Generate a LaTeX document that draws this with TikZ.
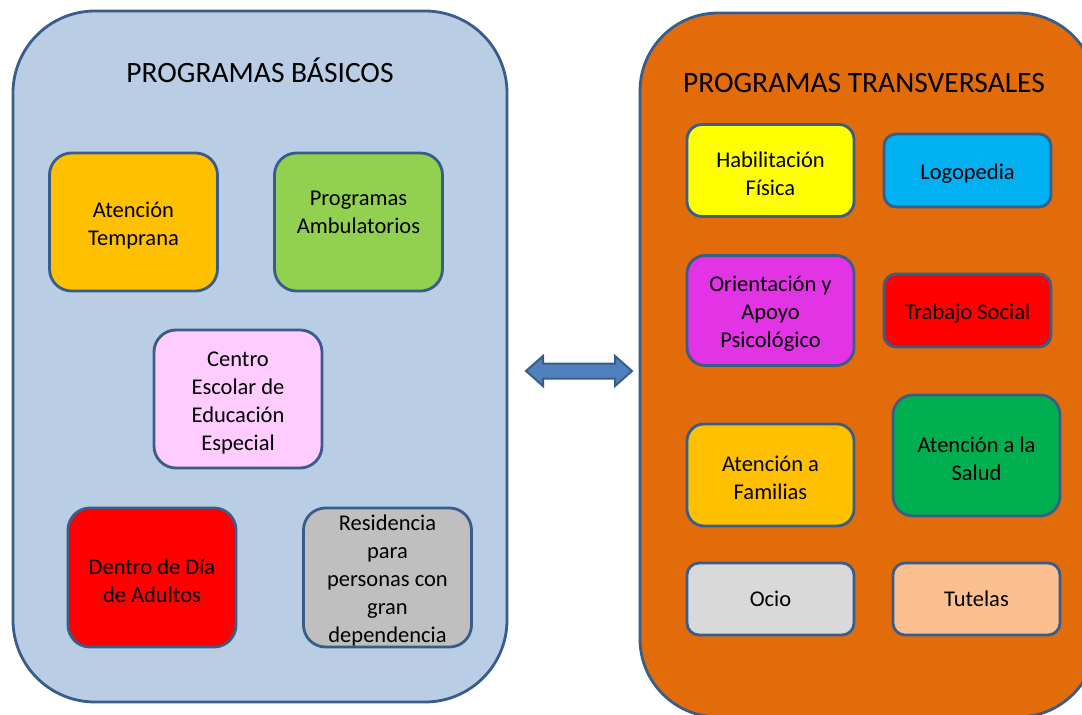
\documentclass[tikz,border=0pt]{standalone}
\usepackage{fontspec}
\setmainfont{Carlito}
\newcommand{\tstrut}{\rule{0pt}{22pt}}
\definecolor{bordercol}{HTML}{385D8A}
\definecolor{leftfill}{HTML}{B9CDE5}
\definecolor{rightfill}{HTML}{E36C0A}
\definecolor{arrowfill}{HTML}{4F81BD}
\definecolor{cAT}{HTML}{FFC000}
\definecolor{cPA}{HTML}{92D050}
\definecolor{cCE}{HTML}{FFCCFF}
\definecolor{cRed}{HTML}{FF0000}
\definecolor{cRes}{HTML}{BFBFBF}
\definecolor{cHab}{HTML}{FFFF00}
\definecolor{cLog}{HTML}{00B0F0}
\definecolor{cOri}{HTML}{E233E5}
\definecolor{cSal}{HTML}{00B050}
\definecolor{cOcio}{HTML}{D9D9D9}
\definecolor{cTut}{HTML}{FAC090}
\tikzset{
  bigbox/.style={draw=bordercol, line width=2.8pt, inner sep=0pt},
  prog/.style={draw=bordercol, line width=2.8pt, inner sep=0pt, align=center,
    font=\fontsize{22.5}{28}\selectfont, text=black},
  titletext/.style={anchor=base, font=\fontsize{29.5}{34}\selectfont, text=black, inner sep=0pt},
}
\begin{document}
\begin{tikzpicture}[x=1pt,y=-1pt]
\useasboundingbox (0,0) rectangle (1082,715);
\clip (0,0) rectangle (1082,715);
% big containers
\node[bigbox, fill=leftfill, minimum width=494, minimum height=691, rounded corners=82] (basicos) at (260,356.5) {};
\node[bigbox, fill=rightfill, minimum width=456, minimum height=704, rounded corners=78] (transv) at (868,365) {};
\node[titletext] (tbas) at (260,82) {PROGRAMAS BÁSICOS};
\node[titletext] (ttra) at (864,92) {PROGRAMAS TRANSVERSALES};
% basic programs
\node[prog, fill=cAT, minimum width=168, minimum height=138, rounded corners=22] (at) at (133.5,222) {\tstrut Atención\\Temprana};
\node[prog, fill=cPA, minimum width=168, minimum height=138, rounded corners=22] (pa) at (358.5,222) {\tstrut Programas\\Ambulatorios\\\mbox{}};
\node[prog, fill=cCE, minimum width=168, minimum height=138, rounded corners=22] (ce) at (238,399) {\tstrut Centro\\Escolar de\\Educación\\Especial};
\node[prog, fill=cRed, minimum width=168, minimum height=139, rounded corners=22] (dd) at (152,577.5) {\tstrut Dentro de Día\\de Adultos};
\node[prog, fill=cRes, minimum width=168, minimum height=139, rounded corners=22] (rs) at (387.5,577.5) {\tstrut Residencia\\para\\personas con\\gran\\dependencia};
% transversal programs
\node[prog, fill=cHab, minimum width=167, minimum height=92, rounded corners=15] (hf) at (770.5,170.5) {\tstrut Habilitación\\Física};
\node[prog, fill=cLog, minimum width=167, minimum height=73, rounded corners=12] (lg) at (967.5,170.5) {\tstrut Logopedia};
\node[prog, fill=cOri, minimum width=167, minimum height=110, rounded corners=18] (oa) at (770.5,310.5) {\tstrut Orientación y\\Apoyo\\Psicológico};
\node[prog, fill=cRed, minimum width=167, minimum height=73, rounded corners=12] (ts) at (967.5,310.5) {\tstrut Trabajo Social};
\node[prog, fill=cAT, minimum width=167, minimum height=102, rounded corners=17] (af) at (770.5,475) {\tstrut Atención a\\Familias};
\node[prog, fill=cSal, minimum width=167, minimum height=121, rounded corners=20] (as) at (976.5,455.5) {\tstrut Atención a la\\Salud};
\node[prog, fill=cOcio, minimum width=167, minimum height=72, rounded corners=12] (oc) at (770.5,599) {Ocio};
\node[prog, fill=cTut, minimum width=167, minimum height=72, rounded corners=12] (tu) at (976.5,599) {Tutelas};
% double block arrow between the two groups
\coordinate (al) at (526,371);
\coordinate (ar) at (632,371);
\draw[draw=bordercol, fill=arrowfill, line width=2pt, line join=miter]
  (al) -- ++(17,-15) -- ++(0,7.5) -- (615,363.5) -- ++(0,-7.5) -- (ar)
  -- ++(-17,15) -- ++(0,-7.5) -- (543,378.5) -- ++(0,7.5) -- cycle;
\end{tikzpicture}
\end{document}
